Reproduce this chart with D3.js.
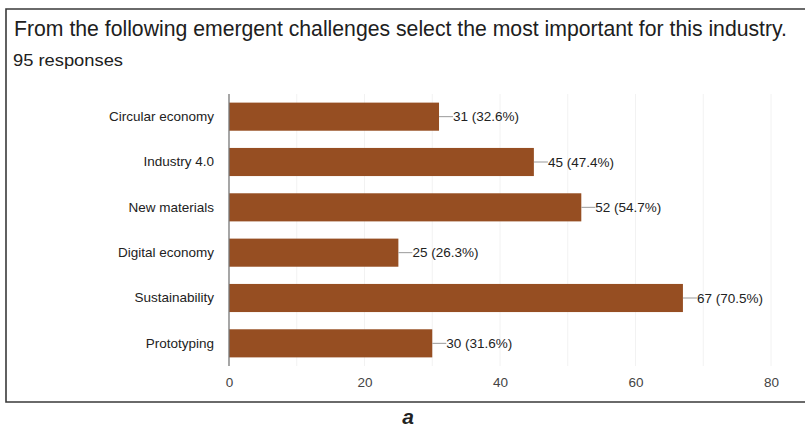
<!DOCTYPE html>
<html>
<head>
<meta charset="utf-8">
<script src="https://cdn.jsdelivr.net/npm/d3@7/dist/d3.min.js"></script>
<style>
  html, body { margin: 0; padding: 0; background: #fff; }
  svg { display: block; font-family: "Liberation Sans", Arial, sans-serif; }
</style>
</head>
<body>
<svg id="chart" width="805" height="428"></svg>
<script>
// Survey answers: count of respondents choosing each challenge
const categories = ["Circular economy", "Industry 4.0", "New materials", "Digital economy", "Sustainability", "Prototyping"];
const counts = [31, 45, 52, 25, 67, 30];
const percents = ["32.6%", "47.4%", "54.7%", "26.3%", "70.5%", "31.6%"];
const xTicks = [0, 20, 40, 60, 80];
const gridTicks = [10, 20, 30, 40, 50, 60, 70, 80];
const titleText = "From the following emergent challenges select the most important for this industry.";
const subtitleText = "95 responses";
const captionText = "a";

const svg = d3.select("#chart");

// Framing box (open on the right side)
svg.append("path")
  .attr("d", "M805,9 H6 V402 H805")
  .attr("fill", "none")
  .attr("stroke", "#3a3a3a")
  .attr("stroke-width", 1.6);

svg.append("text")
  .attr("x", 14).attr("y", 36)
  .attr("font-size", 21.5)
  .attr("textLength", 773)
  .attr("lengthAdjust", "spacingAndGlyphs")
  .attr("fill", "#202020")
  .text(titleText);

svg.append("text")
  .attr("x", 13).attr("y", 66)
  .attr("font-size", 16)
  .attr("textLength", 110)
  .attr("lengthAdjust", "spacingAndGlyphs")
  .attr("fill", "#202020")
  .text(subtitleText);

const plot = { left: 229, right: 771, top: 94, bottom: 366 };

const x = d3.scaleLinear().domain([0, 80]).range([plot.left, plot.right]);
const y = d3.scaleBand().domain(categories).range([plot.top, plot.bottom]).paddingInner(0.38).paddingOuter(0.19);

// Light vertical gridlines
svg.append("g")
  .selectAll("line")
  .data(gridTicks)
  .join("line")
  .attr("x1", d => x(d)).attr("x2", d => x(d))
  .attr("y1", plot.top).attr("y2", plot.bottom)
  .attr("stroke", "#f2f2f2")
  .attr("stroke-width", 1);

// Bars
svg.append("g")
  .selectAll("rect")
  .data(categories)
  .join("rect")
  .attr("x", x(0))
  .attr("y", d => y(d))
  .attr("width", (d, i) => x(counts[i]) - x(0))
  .attr("height", y.bandwidth())
  .attr("fill", "#964e22");

// Baseline axis
svg.append("line")
  .attr("x1", x(0)).attr("x2", x(0))
  .attr("y1", plot.top).attr("y2", plot.bottom)
  .attr("stroke", "#777").attr("stroke-width", 1.3);

// Category labels
const yAxis = d3.axisLeft(y).tickSize(0).tickPadding(15);
const yg = svg.append("g").attr("transform", `translate(${x(0)},0)`).call(yAxis);
yg.select(".domain").remove();
yg.selectAll("text")
  .attr("font-size", 13.5)
  .attr("fill", "#222")
  .attr("font-family", "'Liberation Sans', Arial, sans-serif");

// Value axis tick labels
const xAxis = d3.axisBottom(x).tickValues(xTicks).tickSize(0).tickPadding(11);
const xg = svg.append("g").attr("transform", `translate(0,${plot.bottom})`).call(xAxis);
xg.select(".domain").remove();
xg.selectAll("text")
  .attr("font-size", 13.5)
  .attr("fill", "#444")
  .attr("font-family", "'Liberation Sans', Arial, sans-serif");

// Value annotations with leader lines
const ann = svg.append("g")
  .selectAll("g")
  .data(categories)
  .join("g")
  .attr("transform", (d, i) => `translate(${x(counts[i])},${y(d) + y.bandwidth() / 2})`);

ann.append("line")
  .attr("x1", 0).attr("x2", 14)
  .attr("y1", 0).attr("y2", 0)
  .attr("stroke", "#999").attr("stroke-width", 1);

ann.append("text")
  .attr("x", 14).attr("y", 0)
  .attr("dy", "0.35em")
  .attr("font-size", 13.5)
  .attr("fill", "#222")
  .text((d, i) => `${counts[i]} (${percents[i]})`);

// Figure panel caption
svg.append("text")
  .attr("x", 408).attr("y", 424)
  .attr("text-anchor", "middle")
  .attr("font-size", 21)
  .attr("font-weight", "bold")
  .attr("font-style", "italic")
  .attr("fill", "#222")
  .text(captionText);
</script>
</body>
</html>
